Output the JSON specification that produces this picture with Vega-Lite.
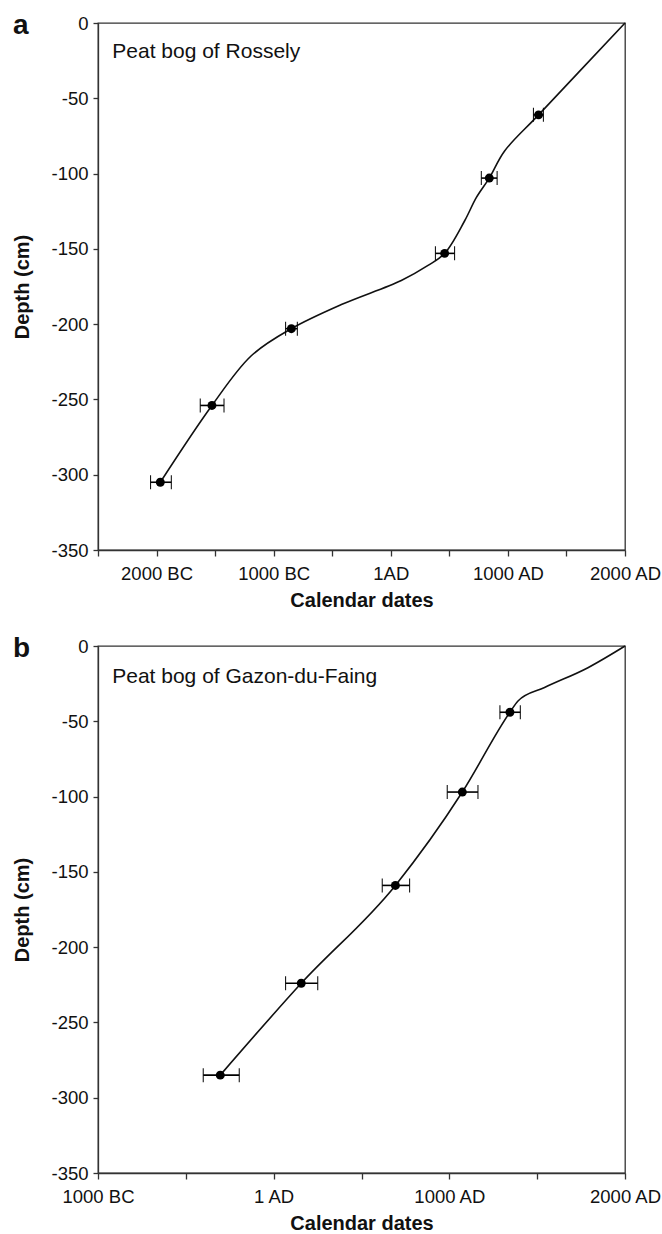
{
  "$schema": "https://vega.github.io/schema/vega-lite/v6.json",
  "padding": {"left": 12, "top": 11, "right": 0, "bottom": 0},
  "background": "white",
  "datasets": {
    "ptsA": [
      {"year": 1262, "depth": -61, "lo": 1218, "hi": 1303},
      {"year": 841, "depth": -103, "lo": 773, "hi": 908},
      {"year": 460, "depth": -153, "lo": 381, "hi": 545},
      {"year": -849, "depth": -203, "lo": -898, "hi": -798},
      {"year": -1527, "depth": -254, "lo": -1627, "hi": -1424},
      {"year": -1968, "depth": -305, "lo": -2051, "hi": -1874}
    ],
    "curveA": [
      {"year": -1968, "depth": -305},
      {"year": -1527, "depth": -254},
      {"year": -1191, "depth": -221},
      {"year": -849, "depth": -203},
      {"year": -422, "depth": -187},
      {"year": 90, "depth": -171},
      {"year": 318, "depth": -161},
      {"year": 460, "depth": -153},
      {"year": 630, "depth": -131.5},
      {"year": 730, "depth": -116},
      {"year": 841, "depth": -103},
      {"year": 972, "depth": -85},
      {"year": 1262, "depth": -61},
      {"year": 2000, "depth": 0}
    ],
    "ptsB": [
      {"year": 1345, "depth": -44, "lo": 1288, "hi": 1404},
      {"year": 1074, "depth": -97, "lo": 988, "hi": 1163},
      {"year": 693, "depth": -159, "lo": 618, "hi": 774},
      {"year": 157, "depth": -224, "lo": 68, "hi": 251},
      {"year": -304, "depth": -285, "lo": -401, "hi": -196}
    ],
    "curveB": [
      {"year": -304, "depth": -285},
      {"year": 157, "depth": -224},
      {"year": 693, "depth": -159},
      {"year": 1074, "depth": -97},
      {"year": 1345, "depth": -44},
      {"year": 1391, "depth": -36.5},
      {"year": 1542, "depth": -27.6},
      {"year": 1789, "depth": -14.4},
      {"year": 2000, "depth": 0}
    ],
    "labA": [{"year": -2378, "depth": -23, "text": "Peat bog of Rossely"}],
    "labB": [{"year": -919, "depth": -24.3, "text": "Peat bog of Gazon-du-Faing"}]
  },
  "vconcat": [
    {
      "width": 527,
      "height": 527,
      "title": {"text": "a", "anchor": "start", "frame": "bounds", "fontSize": 28, "fontWeight": "bold", "offset": -48, "baseline": "alphabetic", "color": "#111"},
      "layer": [
        {
          "data": {"name": "curveA"},
          "mark": {"type": "line", "interpolate": "catmull-rom", "color": "#111", "strokeWidth": 1.6},
          "encoding": {
            "x": {"field": "year", "type": "quantitative", "title": "Calendar dates", "scale": {"domain": [-2500, 2000], "nice": false, "zero": false},
              "axis": {"values": [-2500, -2000, -1500, -1000, -500, 0, 500, 1000, 1500, 2000],
                "labelExpr": "datum.value == -2000 ? '2000 BC' : datum.value == -1000 ? '1000 BC' : datum.value == 0 ? '1AD' : datum.value == 1000 ? '1000 AD' : datum.value == 2000 ? '2000 AD' : ''",
                "tickSize": 6, "labelPadding": 8, "titlePadding": 8, "labelFlush": false, "labelOverlap": false}},
            "y": {"field": "depth", "type": "quantitative", "title": "Depth (cm)", "scale": {"domain": [-350, 0], "nice": false, "zero": false},
              "axis": {"values": [-350, -300, -250, -200, -150, -100, -50, 0], "labelExpr": "'' + datum.value", "tickSize": 5, "labelPadding": 5, "titlePadding": 18}}
          }
        },
        {
          "data": {"name": "ptsA"},
          "mark": {"type": "errorbar", "ticks": {"size": 14, "color": "#000", "strokeWidth": 1.6, "opacity": 1}, "rule": {"color": "#000", "strokeWidth": 1.6, "opacity": 1}},
          "encoding": {
            "x": {"field": "lo", "type": "quantitative", "title": "Calendar dates"},
            "x2": {"field": "hi"},
            "y": {"field": "depth", "type": "quantitative", "title": "Depth (cm)"}
          }
        },
        {
          "data": {"name": "ptsA"},
          "mark": {"type": "point", "filled": true, "color": "#000", "size": 80, "opacity": 1},
          "encoding": {
            "x": {"field": "year", "type": "quantitative", "title": "Calendar dates"},
            "y": {"field": "depth", "type": "quantitative", "title": "Depth (cm)"}
          }
        },
        {
          "data": {"name": "labA"},
          "mark": {"type": "text", "align": "left", "baseline": "alphabetic", "fontSize": 21, "color": "#111"},
          "encoding": {
            "x": {"field": "year", "type": "quantitative", "title": "Calendar dates"},
            "y": {"field": "depth", "type": "quantitative", "title": "Depth (cm)"},
            "text": {"field": "text"}
          }
        }
      ]
    },
    {
      "width": 527,
      "height": 527,
      "title": {"text": "b", "anchor": "start", "frame": "bounds", "fontSize": 28, "fontWeight": "bold", "offset": -48, "baseline": "alphabetic", "color": "#111"},
      "layer": [
        {
          "data": {"name": "curveB"},
          "mark": {"type": "line", "interpolate": "monotone", "color": "#111", "strokeWidth": 1.6},
          "encoding": {
            "x": {"field": "year", "type": "quantitative", "title": "Calendar dates", "scale": {"domain": [-1000, 2000], "nice": false, "zero": false},
              "axis": {"values": [-1000, -500, 0, 500, 1000, 1500, 2000],
                "labelExpr": "datum.value == -1000 ? '1000 BC' : datum.value == 0 ? '1 AD' : datum.value == 1000 ? '1000 AD' : datum.value == 2000 ? '2000 AD' : ''",
                "tickSize": 6, "labelPadding": 8, "titlePadding": 8, "labelFlush": false, "labelOverlap": false}},
            "y": {"field": "depth", "type": "quantitative", "title": "Depth (cm)", "scale": {"domain": [-350, 0], "nice": false, "zero": false},
              "axis": {"values": [-350, -300, -250, -200, -150, -100, -50, 0], "labelExpr": "'' + datum.value", "tickSize": 5, "labelPadding": 5, "titlePadding": 18}}
          }
        },
        {
          "data": {"name": "ptsB"},
          "mark": {"type": "errorbar", "ticks": {"size": 14, "color": "#000", "strokeWidth": 1.6, "opacity": 1}, "rule": {"color": "#000", "strokeWidth": 1.6, "opacity": 1}},
          "encoding": {
            "x": {"field": "lo", "type": "quantitative", "title": "Calendar dates"},
            "x2": {"field": "hi"},
            "y": {"field": "depth", "type": "quantitative", "title": "Depth (cm)"}
          }
        },
        {
          "data": {"name": "ptsB"},
          "mark": {"type": "point", "filled": true, "color": "#000", "size": 80, "opacity": 1},
          "encoding": {
            "x": {"field": "year", "type": "quantitative", "title": "Calendar dates"},
            "y": {"field": "depth", "type": "quantitative", "title": "Depth (cm)"}
          }
        },
        {
          "data": {"name": "labB"},
          "mark": {"type": "text", "align": "left", "baseline": "alphabetic", "fontSize": 21, "color": "#111"},
          "encoding": {
            "x": {"field": "year", "type": "quantitative", "title": "Calendar dates"},
            "y": {"field": "depth", "type": "quantitative", "title": "Depth (cm)"},
            "text": {"field": "text"}
          }
        }
      ]
    }
  ],
  "spacing": 22,
  "config": {
    "font": "Liberation Sans",
    "view": {"stroke": "#333", "strokeWidth": 1.3},
    "axis": {"grid": false, "domainColor": "#333", "tickColor": "#333", "domainWidth": 1.3, "tickWidth": 1.3,
      "labelColor": "#111", "titleColor": "#111", "labelFontSize": 18.5, "titleFontSize": 20, "titleFontWeight": "bold", "labelFont": "Liberation Sans", "titleFont": "Liberation Sans"}
  }
}
